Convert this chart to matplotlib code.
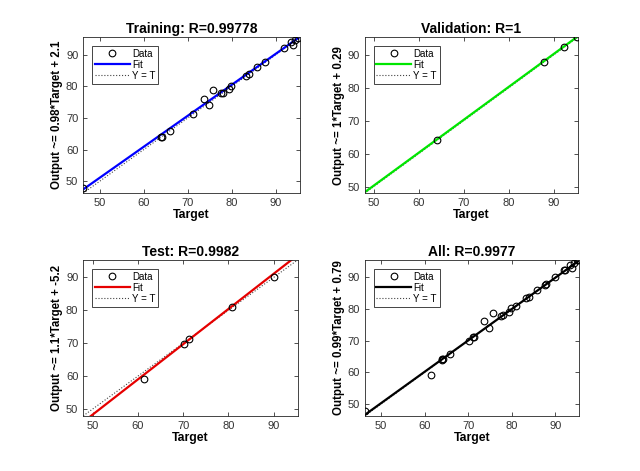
import matplotlib.pyplot as plt
import numpy as np

plt.rcParams['font.family'] = ['Liberation Sans', 'DejaVu Sans']

# Training data (target, output)
train_t = [46.3, 64.0, 64.2, 65.9, 71.2, 73.7, 74.8, 75.8, 77.5, 77.9, 79.4, 79.9,
           83.2, 83.9, 85.8, 87.6, 91.9, 93.5, 93.8, 94.3, 95.1]
train_y = [47.8, 64.0, 64.1, 65.8, 71.3, 76.1, 74.0, 78.8, 77.8, 78.0, 79.1, 80.2,
           83.4, 83.8, 86.1, 87.7, 92.2, 94.0, 93.0, 94.7, 95.4]
# Validation data
val_t = [64.1, 87.8, 92.3, 95.2]
val_y = [64.2, 87.8, 92.4, 95.4]
# Test data
test_t = [61.4, 70.1, 71.3, 80.9, 90.0]
test_y = [59.2, 69.9, 71.3, 81.0, 90.0]

titles = ['Training: R=0.99778', 'Validation: R=1', 'Test: R=0.9982', 'All: R=0.9977']
ylabels = ['Output ~= 0.98*Target + 2.1', 'Output ~= 1*Target + 0.29',
           'Output ~= 1.1*Target + -5.2', 'Output ~= 0.99*Target + 0.79']
fit_slope = [0.98, 1.0, 1.07, 0.99]
fit_icpt = [2.1, 0.29, -5.2, 0.79]
fit_colors = ['#0000ff', '#00e600', '#e60000', '#000000']
limits = [(46.3, 95.5), (48.0, 95.3), (47.9, 95.3), (46.3, 95.5)]

all_t = train_t + val_t + test_t
all_y = train_y + val_y + test_y
targets = [train_t, val_t, test_t, all_t]
outputs = [train_y, val_y, test_y, all_y]

fig = plt.figure(figsize=(6.4, 4.71), dpi=100)
positions = [[0.130, 0.590, 0.339, 0.331], [0.570, 0.590, 0.333, 0.331],
             [0.130, 0.117, 0.335, 0.331], [0.570, 0.117, 0.335, 0.331]]

for i in range(4):
    ax = fig.add_axes(positions[i])
    lo, hi = limits[i]
    xs = np.array([lo, hi])
    ax.plot(targets[i], outputs[i], 'o', mfc='none', mec='black', ms=4.8, mew=0.8, label='Data', zorder=3)
    ax.plot(xs, fit_slope[i] * xs + fit_icpt[i], '-', color=fit_colors[i], lw=1.6, label='Fit', zorder=2)
    ax.plot(xs, xs, ':', color='#444444', lw=0.8, label='Y = T', zorder=1)
    ax.set_xlim(lo, hi)
    ax.set_ylim(lo, hi)
    ax.set_xticks([50, 60, 70, 80, 90])
    ax.set_yticks([50, 60, 70, 80, 90])
    ax.tick_params(direction='in', top=True, right=True, labelsize=8, length=3,
                   colors='#333333', width=0.6)
    for s in ax.spines.values():
        s.set_color('#262626')
        s.set_linewidth(0.6)
    ax.set_title(titles[i], fontsize=10, fontweight='bold', pad=3)
    ax.set_xlabel('Target', fontsize=8.8, fontweight='bold', labelpad=1)
    ax.set_ylabel(ylabels[i], fontsize=8.3, fontweight='bold', labelpad=2)
    leg = ax.legend(loc='upper left', fontsize=7, fancybox=False, framealpha=1,
                    edgecolor='#262626', borderpad=0.3, handlelength=3.6,
                    handletextpad=0.2, labelspacing=0.1, borderaxespad=0.9)
    leg.get_frame().set_linewidth(0.6)

fig.savefig('out.png', dpi=100)
